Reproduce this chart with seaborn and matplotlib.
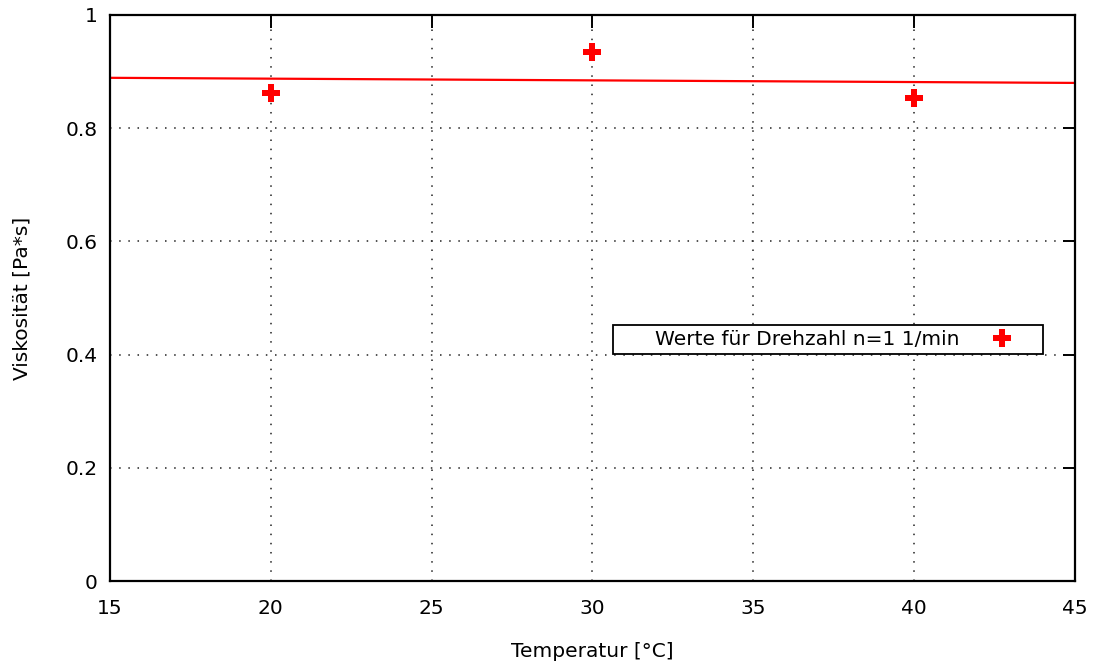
import matplotlib
matplotlib.use("Agg")
import matplotlib.pyplot as plt
from matplotlib.patches import Rectangle
import seaborn as sns
import pandas as pd

# Data
temperatures = [20, 30, 40]
viscosity = [0.862, 0.935, 0.854]
fit_x = [15, 45]
fit_y = [0.889, 0.880]
x_ticks = [15, 20, 25, 30, 35, 40, 45]
y_ticks = [0, 0.2, 0.4, 0.6, 0.8, 1]
y_tick_labels = ["0", "0.2", "0.4", "0.6", "0.8", "1"]

sns.set_style("white")
plt.rcParams['font.family'] = ['DejaVu Sans']
plt.rcParams['text.color'] = 'black'
plt.rcParams['axes.labelcolor'] = 'black'

FS = 14.5

fig = plt.figure(figsize=(10.94, 6.66), dpi=100)
ax = fig.add_axes([0.1005, 0.1276, 0.8821, 0.8499])

df_pts = pd.DataFrame({"T": temperatures, "eta": viscosity})
df_fit = pd.DataFrame({"T": fit_x, "eta": fit_y})

sns.lineplot(data=df_fit, x="T", y="eta", ax=ax, color="#ff0000", linewidth=1.6, legend=False)
ax.plot(df_pts["T"], df_pts["eta"], linestyle="none", marker="P", markersize=13,
        color="#ff0000", markeredgewidth=0, label="Werte für Drehzahl n=1 1/min")

ax.set_xlim(15, 45)
ax.set_ylim(0, 1)
ax.set_xticks(x_ticks)
ax.set_xticklabels([str(t) for t in x_ticks])
ax.set_yticks(y_ticks)
ax.set_yticklabels(y_tick_labels)

ax.grid(True, color="#222222", linestyle=(0, (1, 5)), linewidth=1.1)
ax.tick_params(axis="both", which="major", direction="in", length=9, width=1.4,
               top=True, right=True, labelsize=FS, colors="black", pad=9)
ax.tick_params(axis="x", pad=13)
for s in ax.spines.values():
    s.set_visible(True)
    s.set_color("black")
    s.set_linewidth(1.6)

ax.set_xlabel("Temperatur [°C]", fontsize=FS, labelpad=17)
ax.set_ylabel("Viskosität [Pa*s]", fontsize=FS, labelpad=24)

# legend frame (drawn separately to match the wide padding)
ax.add_patch(Rectangle((0.521, 0.401), 0.446, 0.051, transform=ax.transAxes,
                       facecolor="white", edgecolor="black", linewidth=1.3, zorder=4))
leg = ax.legend(loc="center left", bbox_to_anchor=(0.5648, 0.4265), markerfirst=False,
                fontsize=FS, frameon=False, handletextpad=1.5, borderpad=0.0,
                borderaxespad=0.0, handlelength=1.2)
leg.set_zorder(5)

fig.savefig("out.png", dpi=100)
